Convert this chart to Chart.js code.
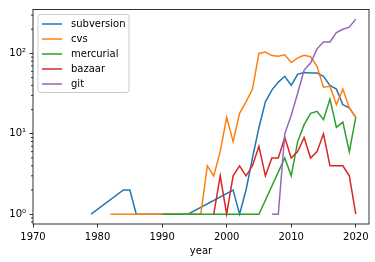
<!DOCTYPE html>
<html>
<head>
<meta charset="utf-8">
<script src="https://cdn.jsdelivr.net/npm/chart.js@4"></script>
<style>
  body { margin: 0; background: #fff; }
  #wrap { width: 375px; height: 262px; }
</style>
</head>
<body>
<div id="wrap"><canvas id="chart"></canvas></div>
<script>
// values (count per year, log axis)
const svnYears = [1979, 1984, 1985, 1986, 1994, 2001, 2002, 2003, 2004, 2005, 2006, 2007, 2008, 2009, 2010, 2011, 2012, 2013, 2014, 2015, 2016, 2017, 2018, 2019, 2020];
const svnCounts = [1, 2, 2, 1, 1, 2, 1, 2, 5, 12, 25, 35, 44, 52, 40, 55, 58, 57, 57, 52, 40, 36, 23, 21, 16];

const cvsYears = [1982, 1996, 1997, 1998, 1999, 2000, 2001, 2002, 2003, 2004, 2005, 2006, 2007, 2008, 2009, 2010, 2011, 2012, 2013, 2014, 2015, 2016, 2017, 2018, 2019, 2020];
const cvsCounts = [1, 1, 4, 3, 6, 16, 8, 18, 25, 36, 100, 104, 94, 92, 96, 77, 88, 95, 91, 69, 38, 39, 23, 36, 21, 16];

const hgYears = [1990, 2005, 2009, 2010, 2011, 2012, 2013, 2014, 2015, 2016, 2017, 2018, 2019, 2020];
const hgCounts = [1, 1, 5, 3, 8, 13, 18, 19, 15, 27, 12, 14, 6, 16];

const bzrYears = [1998, 1999, 2000, 2001, 2002, 2003, 2004, 2005, 2006, 2007, 2008, 2009, 2010, 2011, 2012, 2013, 2014, 2015, 2016, 2017, 2018, 2019, 2020];
const bzrCounts = [1, 3, 1, 3, 4, 3, 4, 7, 3, 5, 5, 9, 5, 6, 9, 5, 6, 10, 4, 4, 4, 3, 1];

const gitYears = [2007, 2008, 2009, 2010, 2011, 2012, 2013, 2014, 2015, 2016, 2017, 2018, 2019, 2020];
const gitCounts = [1, 1, 10, 17, 32, 62, 76, 114, 139, 139, 182, 200, 212, 267];

const xTicks = [1970, 1980, 1990, 2000, 2010, 2020];
const yTicks = [1, 10, 100];
const yTickLabels = ['10\u2070', '10\u00b9', '10\u00b2'];
const yMinorTicks = [0.8, 0.9, 2, 3, 4, 5, 6, 7, 8, 9, 20, 30, 40, 50, 60, 70, 80, 90, 200, 300];

const series = [
  ['subversion', svnYears, svnCounts, '#1f77b4'],
  ['cvs', cvsYears, cvsCounts, '#ff7f0e'],
  ['mercurial', hgYears, hgCounts, '#2ca02c'],
  ['bazaar', bzrYears, bzrCounts, '#d62728'],
  ['git', gitYears, gitCounts, '#9467bd']
];

Chart.defaults.font.family = 'DejaVu Sans';
Chart.defaults.font.size = 10;
Chart.defaults.color = '#000';

// frame, minor ticks and the legend box, matplotlib style
const decor = {
  id: 'decor',
  afterDraw(chart) {
    const ctx = chart.ctx;
    const a = chart.chartArea;
    const y = chart.scales.y;
    ctx.save();
    ctx.strokeStyle = '#000';
    ctx.lineWidth = 0.8;
    ctx.beginPath();
    yMinorTicks.forEach(v => {
      const py = y.getPixelForValue(v);
      if (py < a.top || py > a.bottom) return;
      ctx.moveTo(a.left - 2, py);
      ctx.lineTo(a.left, py);
    });
    ctx.stroke();
    ctx.strokeRect(a.left, a.top, a.right - a.left, a.bottom - a.top);

    // legend
    const bx = a.left + 5, by = a.top + 5, bw = 91, bh = 78, r = 2.5;
    ctx.beginPath();
    ctx.moveTo(bx + r, by);
    ctx.lineTo(bx + bw - r, by);
    ctx.arcTo(bx + bw, by, bx + bw, by + r, r);
    ctx.lineTo(bx + bw, by + bh - r);
    ctx.arcTo(bx + bw, by + bh, bx + bw - r, by + bh, r);
    ctx.lineTo(bx + r, by + bh);
    ctx.arcTo(bx, by + bh, bx, by + bh - r, r);
    ctx.lineTo(bx, by + r);
    ctx.arcTo(bx, by, bx + r, by, r);
    ctx.closePath();
    ctx.fillStyle = 'rgba(255,255,255,0.8)';
    ctx.fill();
    ctx.strokeStyle = '#cccccc';
    ctx.lineWidth = 1;
    ctx.stroke();

    ctx.font = '10px "DejaVu Sans"';
    ctx.textBaseline = 'middle';
    ctx.textAlign = 'left';
    chart.data.datasets.forEach((ds, i) => {
      const ly = by + 9.5 + i * 15;
      ctx.strokeStyle = ds.borderColor;
      ctx.lineWidth = 1.5;
      ctx.beginPath();
      ctx.moveTo(bx + 4, ly);
      ctx.lineTo(bx + 24, ly);
      ctx.stroke();
      ctx.fillStyle = '#000';
      ctx.fillText(ds.label, bx + 33, ly);
    });
    ctx.restore();
  }
};

new Chart(document.getElementById('chart'), {
  type: 'line',
  data: {
    datasets: series.map(([name, years, counts, color], i) => ({
      label: name,
      data: years.map((yr, j) => ({ x: yr, y: counts[j] })),
      borderColor: color,
      backgroundColor: color,
      borderWidth: 1.5,
      pointRadius: 0,
      tension: 0,
      fill: false,
      order: series.length - i
    }))
  },
  options: {
    responsive: true,
    maintainAspectRatio: false,
    animation: false,
    layout: { padding: { top: 6, right: 6, left: 0, bottom: 0 } },
    plugins: { legend: { display: false }, tooltip: { enabled: false } },
    scales: {
      x: {
        type: 'linear',
        min: 1970,
        max: 2022.05,
        bounds: 'data',
        afterBuildTicks: s => { s.ticks = xTicks.map(v => ({ value: v })); },
        afterFit: s => { s.height = 38; },
        grid: { drawOnChartArea: false, tickLength: 3.5, tickColor: '#000', tickWidth: 0.8 },
        border: { display: false },
        ticks: { autoSkip: false, maxRotation: 0, padding: 3.5, callback: v => String(v) },
        title: { display: true, text: 'year', padding: { top: 0, bottom: 5 } }
      },
      y: {
        type: 'logarithmic',
        min: 0.755,
        max: 352,
        bounds: 'data',
        afterBuildTicks: s => { s.ticks = yTicks.map(v => ({ value: v })); },
        afterFit: s => { s.width = 33; },
        grid: { drawOnChartArea: false, tickLength: 3.5, tickColor: '#000', tickWidth: 0.8 },
        border: { display: false },
        ticks: { autoSkip: false, padding: 3.5, callback: (v, i) => yTickLabels[i] }
      }
    }
  },
  plugins: [decor]
});
</script>
</body>
</html>
